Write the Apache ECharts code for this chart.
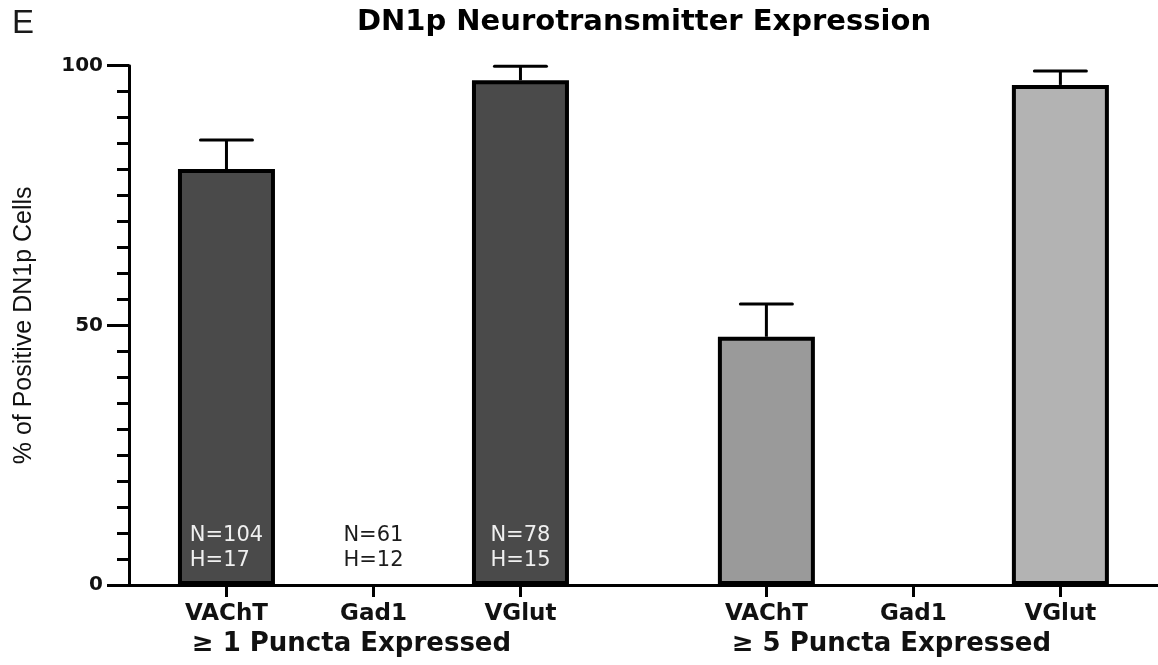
<!DOCTYPE html>
<html>
<head>
<meta charset="utf-8">
<title>DN1p Neurotransmitter Expression</title>
<script src="https://cdn.jsdelivr.net/npm/echarts@6/dist/echarts.min.js"></script>
<style>
  html, body { margin: 0; padding: 0; background: #fff; }
  #chart { width: 1158px; height: 665px; }
</style>
</head>
<body>
<div id="chart"></div>
<script>
// ---- data ----
const groups = ['≥ 1 Puncta Expressed', '≥ 5 Puncta Expressed'];
const transmitters = ['VAChT', 'Gad1', 'VGlut'];
// mean % of positive DN1p cells, one row per group
const meanPct = [
  [80.1, 0, 97.2],
  [47.8, 0, 96.3]
];
// upper error (SEM), one row per group
const errPct = [
  [5.6, 0, 2.7],
  [6.3, 0, 2.7]
];
// sample sizes for the first group
const cellCounts = [104, 61, 78];
const hCounts = [17, 12, 15];
const yTicks = [0, 50, 100];

// ---- layout / style ----
const GROUP_GAP = 0.673;          // extra space between the two groups (in category units)
const X_MIN = -0.663;
const X_MAX = X_MIN + 7;
const COUNT_LABEL_Y = 7.1;        // vertical anchor of the N/H labels (axis units)
const fills = [
  ['#4a4a4a', '#4a4a4a', '#4a4a4a'],
  ['#9a9a9a', '#9a9a9a', '#b3b3b3']
];

const slotPos = (g, i) => g * (transmitters.length + GROUP_GAP) + i;

const positions = [];
const barData = [];
const errData = [];
groups.forEach((grp, g) => {
  transmitters.forEach((name, i) => {
    const x = slotPos(g, i);
    const v = meanPct[g][i];
    positions.push(x);
    barData.push({
      value: [x, v],
      itemStyle: {
        color: fills[g][i],
        borderColor: '#000',
        borderWidth: v > 0 ? 4 : 0
      }
    });
    if (errPct[g][i] > 0) errData.push([x, v, errPct[g][i]]);
  });
});
const groupCenters = groups.map((_, g) => slotPos(g, (transmitters.length - 1) / 2));

const countData = transmitters.map((name, i) => ({
  value: [slotPos(0, i), COUNT_LABEL_Y],
  n: cellCounts[i],
  h: hCounts[i],
  light: meanPct[0][i] > 15
}));

const nameAt = (arr, names, v) => {
  let best = 0;
  arr.forEach((p, k) => { if (Math.abs(p - v) < Math.abs(arr[best] - v)) best = k; });
  return names[best];
};
const posNames = [];
groups.forEach(() => transmitters.forEach(t => posNames.push(t)));

const countText = { fontFamily: 'DejaVu Sans', fontSize: 21, lineHeight: 25, align: 'left' };

const chart = echarts.init(document.getElementById('chart'), null, { renderer: 'canvas' });

chart.setOption({
  animation: false,
  backgroundColor: '#ffffff',
  title: [
    {
      text: 'E',
      left: 12,
      top: 7,
      padding: 0,
      textStyle: { fontFamily: 'Liberation Sans', fontSize: 33, fontWeight: 'normal', color: '#1a1a1a' }
    },
    {
      text: 'DN1p Neurotransmitter Expression',
      left: 644,
      top: 8,
      padding: 0,
      textAlign: 'center',
      textStyle: { fontFamily: 'DejaVu Sans', fontSize: 29, fontWeight: 'bold', color: '#000' }
    }
  ],
  grid: { left: 129, right: 0, top: 65.7, bottom: 80, containLabel: false },
  xAxis: [
    {
      type: 'value',
      min: X_MIN,
      max: X_MAX,
      splitLine: { show: false },
      axisLine: { show: true, onZero: false, lineStyle: { color: '#000', width: 3 } },
      axisTick: { show: true, customValues: positions, length: 12, lineStyle: { color: '#000', width: 3 } },
      axisLabel: {
        customValues: positions,
        margin: 18,
        formatter: v => nameAt(positions, posNames, v),
        fontFamily: 'DejaVu Sans',
        fontWeight: 'bold',
        fontSize: 23,
        color: '#111'
      }
    },
    {
      type: 'value',
      position: 'bottom',
      min: X_MIN,
      max: X_MAX,
      splitLine: { show: false },
      axisLine: { show: false },
      axisTick: { show: false },
      axisLabel: {
        customValues: groupCenters,
        margin: 46,
        padding: [0, 44, 0, 0],
        formatter: v => nameAt(groupCenters, groups, v),
        fontFamily: 'DejaVu Sans',
        fontWeight: 'bold',
        fontSize: 26,
        color: '#111'
      }
    }
  ],
  yAxis: {
    type: 'value',
    min: yTicks[0],
    max: yTicks[yTicks.length - 1],
    interval: yTicks[1] - yTicks[0],
    name: '% of Positive DN1p Cells',
    nameLocation: 'middle',
    nameRotate: 90,
    nameGap: 92,
    nameTextStyle: { fontFamily: 'Liberation Sans', fontSize: 25, color: '#111' },
    splitLine: { show: false },
    axisLine: { show: true, onZero: false, lineStyle: { color: '#000', width: 3 } },
    axisTick: { show: true, length: 22, lineStyle: { color: '#000', width: 3 } },
    minorTick: { show: true, splitNumber: 10, length: 12, lineStyle: { color: '#000', width: 3 } },
    minorSplitLine: { show: false },
    axisLabel: {
      margin: 26,
      fontFamily: 'DejaVu Sans',
      fontWeight: 'bold',
      fontSize: 20,
      color: '#111'
    }
  },
  series: [
    {
      type: 'bar',
      name: 'mean',
      xAxisIndex: 0,
      barWidth: 97,
      data: barData,
      z: 2
    },
    {
      type: 'custom',
      name: 'error',
      xAxisIndex: 0,
      z: 3,
      data: errData,
      renderItem: (params, api) => {
        const x = api.value(0);
        const m = api.value(1);
        const e = api.value(2);
        const base = api.coord([x, m]);
        const top = api.coord([x, m + e]);
        const half = 26;
        return {
          type: 'group',
          children: [
            { type: 'line', shape: { x1: base[0], y1: base[1], x2: top[0], y2: top[1] },
              style: { stroke: '#000', lineWidth: 3 } },
            { type: 'line', shape: { x1: top[0] - half, y1: top[1], x2: top[0] + half, y2: top[1] },
              style: { stroke: '#000', lineWidth: 3, lineCap: 'round' } }
          ]
        };
      }
    },
    {
      type: 'scatter',
      name: 'counts',
      xAxisIndex: 0,
      symbolSize: 1,
      itemStyle: { color: 'rgba(0,0,0,0)', opacity: 1 },
      z: 4,
      data: countData,
      label: {
        show: true,
        position: 'inside',
        formatter: p => {
          const k = p.data.light ? 'w' : 'd';
          return '{' + k + '|N=' + p.data.n + '}\n{' + k + '|H=' + p.data.h + '}';
        },
        rich: {
          w: Object.assign({ color: '#f0f0f0' }, countText),
          d: Object.assign({ color: '#1c1c1c' }, countText)
        }
      }
    }
  ]
});
</script>
</body>
</html>
